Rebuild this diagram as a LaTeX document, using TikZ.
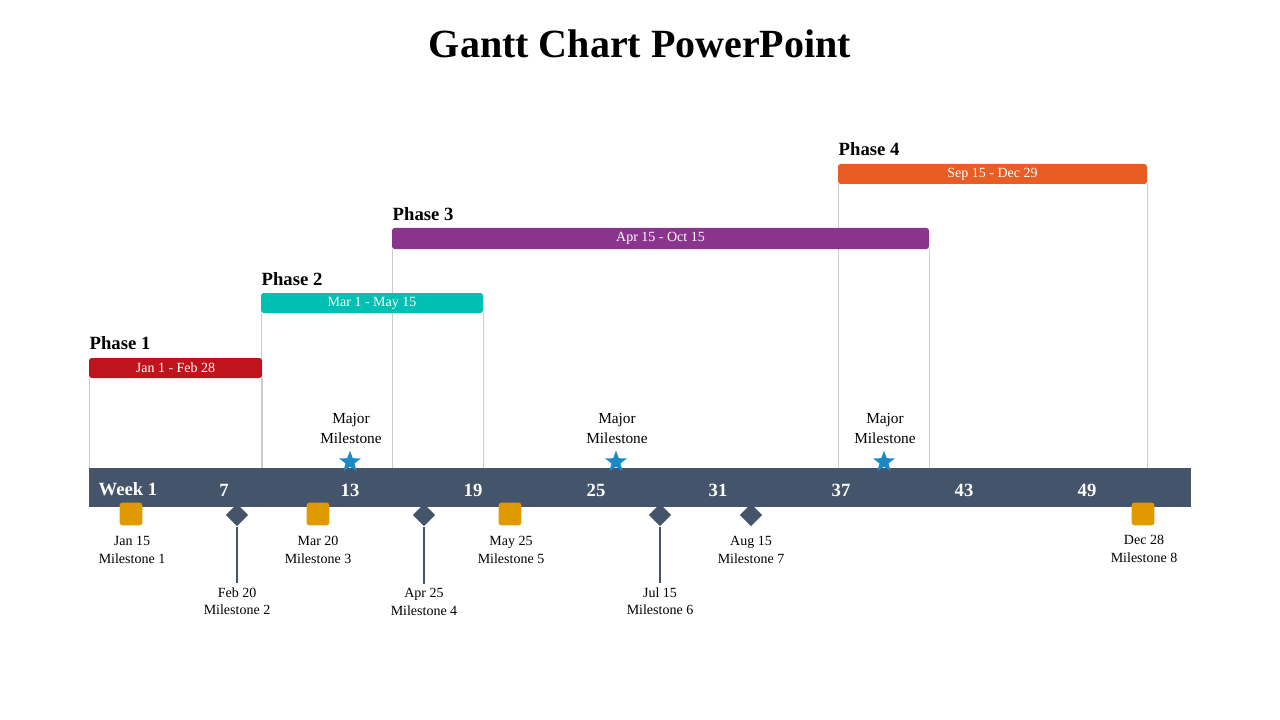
\documentclass[tikz,border=0pt]{standalone}
\usepackage{fontspec}
\setmainfont{Liberation Serif}
\usetikzlibrary{shapes.geometric}
\definecolor{slate}{HTML}{44546A}
\definecolor{pred}{HTML}{C0141C}
\definecolor{pteal}{HTML}{00BFB3}
\definecolor{ppurp}{HTML}{8B348E}
\definecolor{porange}{HTML}{E85D24}
\definecolor{sblue}{HTML}{1B8AC4}
\definecolor{mgold}{HTML}{E09A00}
\tikzset{
 phasebar/.style={rounded corners=2pt,text=white,font=\fontsize{10.5}{12}\selectfont},
 phasetitle/.style={anchor=west,font=\bfseries\fontsize{14}{16}\selectfont},
 guide/.style={draw=black!20,line width=0.6pt},
 wk/.style={text=white,font=\bfseries\fontsize{14}{16}\selectfont},
 bigstar/.style={star,star points=5,star point ratio=2.4,fill=sblue,minimum size=17pt,inner sep=0pt},
 sq/.style={rectangle,rounded corners=2pt,fill=mgold,minimum size=17pt,inner sep=0pt},
 dia/.style={diamond,fill=slate,minimum size=17pt,inner sep=0pt},
 lbl/.style={align=center,font=\fontsize{10.5}{13}\selectfont},
 mlbl/.style={align=center,font=\fontsize{11.5}{15}\selectfont},
}
\begin{document}
\begin{tikzpicture}[x=0.75pt,y=-0.75pt]
\useasboundingbox (0,0) rectangle (1280,720);
\node[font=\bfseries\fontsize{30}{34}\selectfont] (title) at (640,44) {Gantt Chart PowerPoint};
% guides
\draw[guide] (89,378) -- (89,468); \draw[guide] (262,378) -- (262,468);
\draw[guide] (261,313) -- (261,468); \draw[guide] (483,313) -- (483,468);
\draw[guide] (392,249) -- (392,468); \draw[guide] (929,249) -- (929,468);
\draw[guide] (838,184) -- (838,468); \draw[guide] (1147,184) -- (1147,468);
% phase bars
\draw[phasebar,fill=pred,draw=none] (89,358) rectangle node (p1) {Jan 1 - Feb 28} (262,378);
\draw[phasebar,fill=pteal,draw=none] (261,293) rectangle node (p2) {Mar 1 - May 15} (483,313);
\draw[phasebar,fill=ppurp,draw=none] (392,228) rectangle node (p3) {Apr 15 - Oct 15} (929,249);
\draw[phasebar,fill=porange,draw=none] (838,164) rectangle node (p4) {Sep 15 - Dec 29} (1147,184);
\node[phasetitle] (t1) at (85,343) {Phase 1};
\node[phasetitle] (t2) at (257,279) {Phase 2};
\node[phasetitle] (t3) at (388,214) {Phase 3};
\node[phasetitle] (t4) at (834,149) {Phase 4};
% timeline
\fill[slate] (89,468) rectangle (1191,507);
\node[wk] (w1) at (128,489) {Week 1};
\foreach \x/\t in {224/7,350/13,473/19,596/25,718/31,841/37,964/43,1087/49}
  \node[wk] (w\t) at (\x,490) {\t};
% major milestones
\foreach \x/\n in {350/a,616/b,884/c}{
  \node[bigstar] (s\n) at (\x,462) {};
  \node[mlbl] (ms\n) at (\x+1,428) {Major\\Milestone};
}
% squares
\node[sq] (m1) at (131,514) {}; \node[lbl] (l1) at (132,550) {Jan 15\\Milestone 1};
\node[sq] (m3) at (318,514) {}; \node[lbl] (l3) at (318,550) {Mar 20\\Milestone 3};
\node[sq] (m5) at (510,514) {}; \node[lbl] (l5) at (511,550) {May 25\\Milestone 5};
\node[sq] (m8) at (1143,514) {}; \node[lbl] (l8) at (1144,549) {Dec 28\\Milestone 8};
% diamonds
\node[dia] (m2) at (237,515) {}; \node[lbl] (l2) at (237,601) {Feb 20\\Milestone 2};
\node[dia] (m4) at (424,515) {}; \node[lbl] (l4) at (424,602) {Apr 25\\Milestone 4};
\node[dia] (m6) at (660,515) {}; \node[lbl] (l6) at (660,601) {Jul 15\\Milestone 6};
\node[dia] (m7) at (751,515) {}; \node[lbl] (l7) at (751,550) {Aug 15\\Milestone 7};
\draw[slate,line width=0.8pt] (m2) -- (l2);
\draw[slate,line width=0.8pt] (m4) -- (l4);
\draw[slate,line width=0.8pt] (m6) -- (l6);
\end{tikzpicture}
\end{document}
